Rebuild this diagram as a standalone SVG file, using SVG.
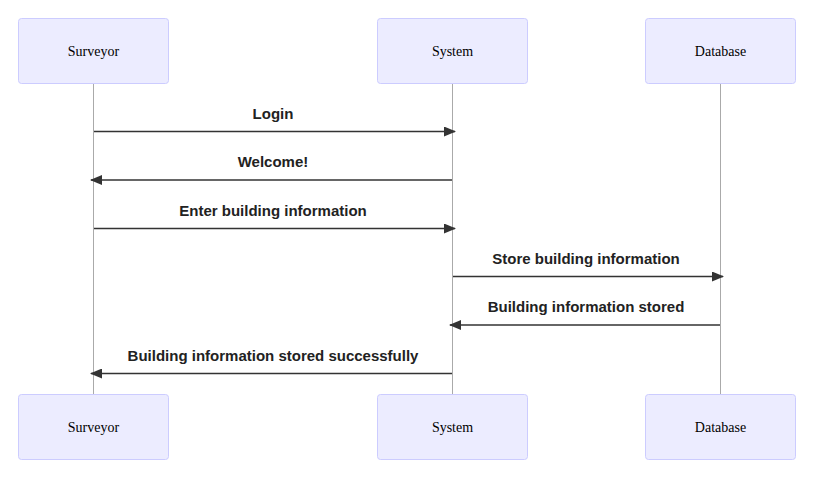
<svg xmlns="http://www.w3.org/2000/svg" width="828" height="477" viewBox="0 0 828 477">
<style>
.actor{fill:#ECECFF;stroke:#CCCCFF;stroke-width:1}
.atext{font-family:"Liberation Serif",serif;font-size:14px;fill:#000;text-anchor:middle;dominant-baseline:central}
.life{stroke:#aaa;stroke-width:1}
.msg{stroke:#333;stroke-width:1.5;fill:none}
.mtext{font-family:"Liberation Sans",Arial,sans-serif;font-weight:bold;font-size:15px;fill:#222;text-anchor:middle}
</style>
<defs>
<marker id="ah" viewBox="0 0 12 10" refX="11" refY="5" markerWidth="12" markerHeight="10" markerUnits="userSpaceOnUse" orient="auto">
<path d="M0,0 L12,5 L0,10 z" fill="#333"/>
</marker>
</defs>
<g id="lifelines">
<line class="life" x1="93.5" y1="83" x2="93.5" y2="394"/>
<line class="life" x1="452.5" y1="83" x2="452.5" y2="394"/>
<line class="life" x1="720.5" y1="83" x2="720.5" y2="394"/>
</g>
<g id="surveyor-top"><rect class="actor" x="18.5" y="18.5" width="150" height="65" rx="3"/><text class="atext" x="93.5" y="51">Surveyor</text></g>
<g id="system-top"><rect class="actor" x="377.5" y="18.5" width="150" height="65" rx="3"/><text class="atext" x="452.5" y="51">System</text></g>
<g id="database-top"><rect class="actor" x="645.5" y="18.5" width="150" height="65" rx="3"/><text class="atext" x="720.5" y="51">Database</text></g>
<g id="surveyor-bottom"><rect class="actor" x="18.5" y="394.5" width="150" height="65" rx="3"/><text class="atext" x="93.5" y="427">Surveyor</text></g>
<g id="system-bottom"><rect class="actor" x="377.5" y="394.5" width="150" height="65" rx="3"/><text class="atext" x="452.5" y="427">System</text></g>
<g id="database-bottom"><rect class="actor" x="645.5" y="394.5" width="150" height="65" rx="3"/><text class="atext" x="720.5" y="427">Database</text></g>
<g id="connectors">
<line class="msg" x1="94" y1="131.5" x2="455" y2="131.5" marker-end="url(#ah)"/>
<text class="mtext" x="273" y="119">Login</text>
<line class="msg" x1="452" y1="180" x2="91" y2="180" marker-end="url(#ah)"/>
<text class="mtext" x="273" y="167">Welcome!</text>
<line class="msg" x1="94" y1="228.5" x2="455" y2="228.5" marker-end="url(#ah)"/>
<text class="mtext" x="273" y="216">Enter building information</text>
<line class="msg" x1="453" y1="276.5" x2="723" y2="276.5" marker-end="url(#ah)"/>
<text class="mtext" x="586" y="264">Store building information</text>
<line class="msg" x1="720" y1="325" x2="450" y2="325" marker-end="url(#ah)"/>
<text class="mtext" x="586" y="312">Building information stored</text>
<line class="msg" x1="452" y1="373.5" x2="91" y2="373.5" marker-end="url(#ah)"/>
<text class="mtext" x="273" y="361">Building information stored successfully</text>
</g>
</svg>
